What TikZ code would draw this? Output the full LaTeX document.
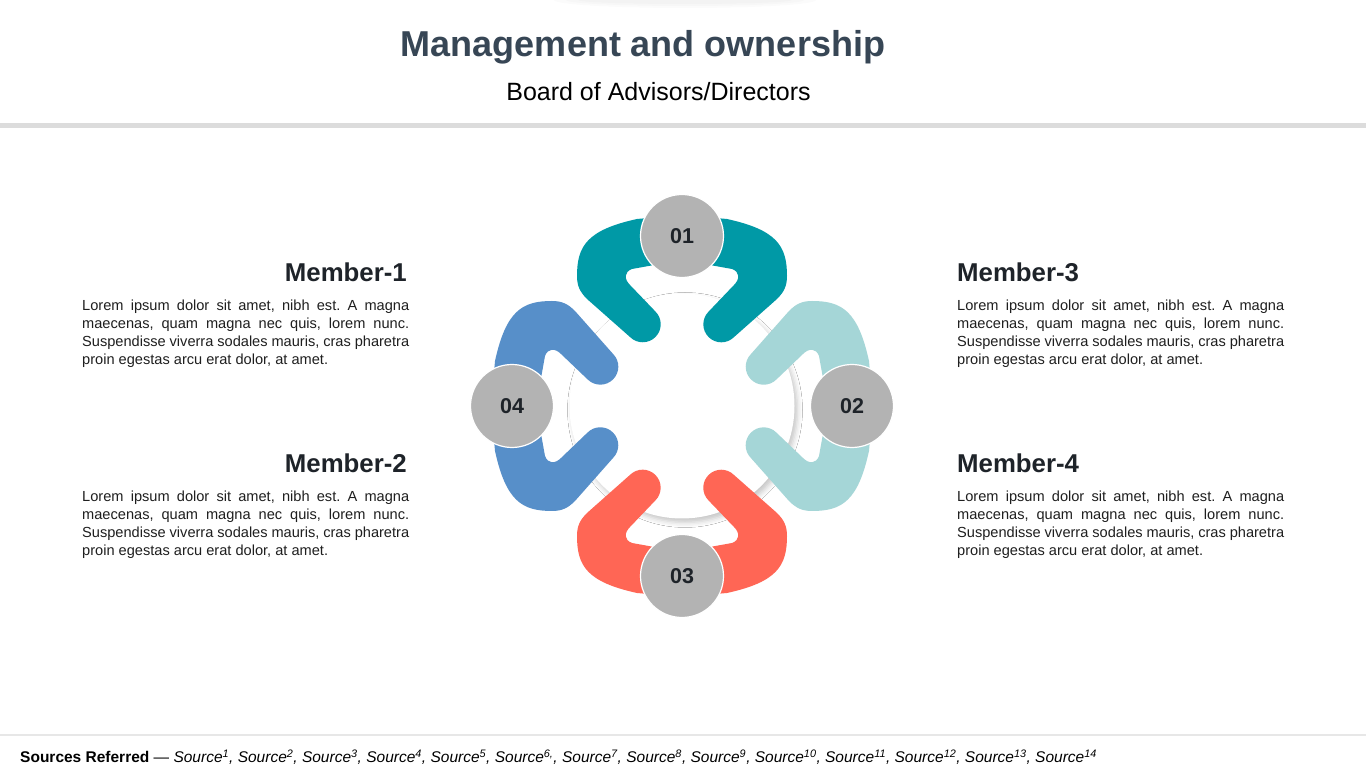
\documentclass[tikz,border=0pt]{standalone}
\usepackage{fontspec}
\setmainfont{Liberation Sans}
\usetikzlibrary{shadows.blur}
\frenchspacing

\definecolor{titlecol}{HTML}{374655}
\definecolor{headcol}{HTML}{1E2329}
\definecolor{tealA}{HTML}{0099A6}
\definecolor{mintB}{HTML}{A5D6D7}
\definecolor{coralC}{HTML}{FF6655}
\definecolor{blueD}{HTML}{578FC9}
\definecolor{numgray}{HTML}{B3B3B3}
\definecolor{rulegray}{HTML}{DCDCDC}

\tikzset{
  member/.style={font=\fontsize{25.8}{30}\selectfont\bfseries, text=headcol, inner sep=0pt},
  lorem/.style={font=\fontsize{14.6}{18}\selectfont, text=black!88, text width=327pt, align=justify, inner sep=0pt},
  numdot/.style={circle, fill=numgray, draw=white, line width=1.2pt, minimum size=83pt, inner sep=0pt,
    font=\fontsize{21.5}{24}\selectfont\bfseries, text=headcol},
}

\newcommand{\memtext}{Lorem ipsum dolor sit amet, nibh est. A magna\linebreak maecenas, quam magna nec quis, lorem nunc.\linebreak Suspendisse viverra sodales mauris, cras pharetra\linebreak proin egestas arcu erat dolor, at amet.}

\begin{document}
\begin{tikzpicture}[x=1pt,y=1pt]
\useasboundingbox (0,0) rectangle (1366,768);
\fill[white] (0,0) rectangle (1366,768);
\foreach \r in {1,2,3}
\fill[black, opacity=0.015] (685,768) ellipse ({95+12*\r} and {2+2*\r});
\fill[rulegray] (0,640) rectangle (1366,645);
\fill[rulegray!70] (0,32) rectangle (1366,34);

\node[font=\fontsize{36}{40}\selectfont\bfseries, text=titlecol, anchor=base] (title) at (643,711) {Management and ownership};
\node[font=\fontsize{25}{30}\selectfont, anchor=base] (subtitle) at (658.5,667) {Board of Advisors/Directors};

% hub and the four members
\node[circle, fill=white, minimum size=225pt, inner sep=0pt,
  blur shadow={shadow xshift=3pt, shadow yshift=-4pt, shadow blur radius=5pt, shadow opacity=22}] (hub) at (682,362) {};
\foreach \ang/\col in {0/tealA,-90/mintB,180/coralC,90/blueD}
\fill[\col, shift={(hub.center)}, rotate=\ang] (0,191) -- (-45,187)
  .. controls (-95,176) and (-105,160) .. (-105,130)
  .. controls (-105,120) and (-102,114) .. (-95,107) -- (-52,69)
  arc[start angle=225, end angle=405, radius=18] -- (-52,121)
  .. controls (-58,127) and (-58,134) .. (-50,137) -- (0,146) -- (50,137)
  .. controls (58,134) and (58,127) .. (52,121) -- (26.6,94.4)
  arc[start angle=135, end angle=315, radius=18] -- (95,107)
  .. controls (102,114) and (105,120) .. (105,130)
  .. controls (105,160) and (95,176) .. (45,187) -- cycle;
\node[numdot] (n01) at (682,532) {01};
\node[numdot] (n02) at (852,362) {02};
\node[numdot] (n03) at (682,192) {03};
\node[numdot] (n04) at (512,362) {04};

\node[member, anchor=base east] (m1) at (407,486) {Member-1};
\node[lorem, anchor=north west] (t1) at (82,468) {\memtext};
\node[member, anchor=base east] (m2) at (407,295) {Member-2};
\node[lorem, anchor=north west] (t2) at (82,277) {\memtext};
\node[member, anchor=base west] (m3) at (957,486) {Member-3};
\node[lorem, anchor=north west] (t3) at (957,468) {\memtext};
\node[member, anchor=base west] (m4) at (957,295) {Member-4};
\node[lorem, anchor=north west] (t4) at (957,277) {\memtext};

\node[anchor=base west, inner sep=0pt, font=\fontsize{15.5}{18}\selectfont] (sources) at (20,5)
  {\textbf{Sources Referred} — \textit{Source\textsuperscript{1}, Source\textsuperscript{2}, Source\textsuperscript{3}, Source\textsuperscript{4}, Source\textsuperscript{5}, Source\textsuperscript{6,}, Source\textsuperscript{7}, Source\textsuperscript{8}, Source\textsuperscript{9}, Source\textsuperscript{10}, Source\textsuperscript{11}, Source\textsuperscript{12}, Source\textsuperscript{13}, Source\textsuperscript{14}}};
\end{tikzpicture}
\end{document}
